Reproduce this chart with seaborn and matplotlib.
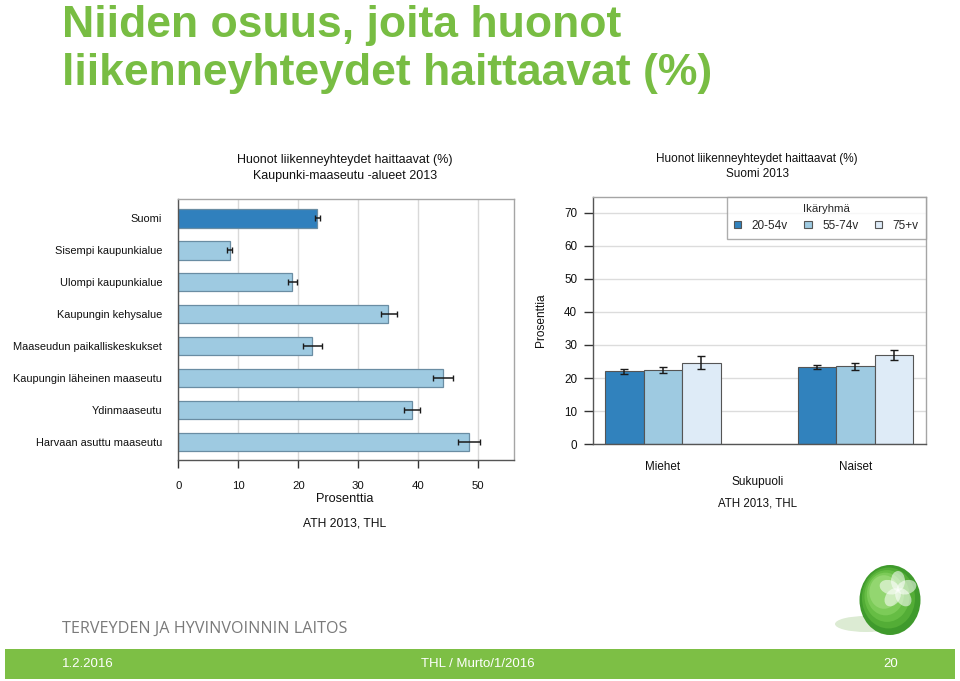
import numpy as np
import pandas as pd
import matplotlib
matplotlib.use("Agg")
import matplotlib.pyplot as plt
import seaborn as sns
from matplotlib.patches import Rectangle, Ellipse

# ---------------- data ----------------
areas = ["Suomi", "Sisempi kaupunkialue", "Ulompi kaupunkialue", "Kaupungin kehysalue",
         "Maaseudun paikalliskeskukset", "Kaupungin läheinen maaseutu", "Ydinmaaseutu",
         "Harvaan asuttu maaseutu"]
area_pct = [23.1, 8.6, 19.0, 35.0, 22.2, 44.2, 39.0, 48.5]
area_low = [22.8, 8.1, 18.3, 33.7, 20.7, 42.4, 37.6, 46.7]
area_high = [23.6, 8.9, 19.7, 36.5, 23.9, 45.8, 40.3, 50.3]
area_ticks = [0, 10, 20, 30, 40, 50]

sexes = ["Miehet", "Naiset"]
age_groups = ["20-54v", "55-74v", "75+v"]
men_pct = [22.1, 22.4, 24.7]
men_low = [21.3, 21.4, 22.8]
men_high = [22.8, 23.3, 26.6]
women_pct = [23.4, 23.6, 27.1]
women_low = [22.8, 22.5, 25.4]
women_high = [24.0, 24.7, 28.6]
sex_ticks = [0, 10, 20, 30, 40, 50, 60, 70]

# ---------------- style ----------------
sns.set_style("white")
plt.rcParams["font.family"] = ["Liberation Sans", "DejaVu Sans"]

W, H = 960, 681
fig = plt.figure(figsize=(W / 100, H / 100), dpi=100)
fig.patch.set_facecolor("white")

# page overlay in pixel coordinates
ax0 = fig.add_axes([0, 0, 1, 1])
ax0.set_xlim(0, W)
ax0.set_ylim(H, 0)
ax0.axis("off")

green = "#78bd43"
ax0.text(62, 37, "Niiden osuus, joita huonot", color=green, fontsize=32,
         fontweight="bold", va="baseline", ha="left")
ax0.text(62, 85, "liikenneyhteydet haittaavat (%)", color=green, fontsize=32,
         fontweight="bold", va="baseline", ha="left")

ax0.text(62, 633, "TERVEYDEN JA HYVINVOINNIN LAITOS", color="#7a7a7a", fontsize=11.6,
         family=["Open Sans", "DejaVu Sans"], va="baseline", ha="left")
ax0.add_patch(Rectangle((5, 649), 950, 30, color="#7dbf45", lw=0))
ax0.text(62, 664, "1.2.2016", color="white", fontsize=9.5, va="center", ha="left")
ax0.text(478, 664, "THL / Murto/1/2016", color="white", fontsize=9.5, va="center", ha="center")
ax0.text(891, 664, "20", color="white", fontsize=9.5, va="center", ha="center")

# logo sphere
ax0.add_patch(Ellipse((866, 624), 62, 16, color="#dcebd3", lw=0))
for i, c in enumerate(["#3f9a2c", "#53ad36", "#66bd44", "#7ccb58", "#93d670"]):
    s = 1 - i * 0.13
    ax0.add_patch(Ellipse((890 - i * 1.5, 600 - i * 2), 61 * s, 70 * s, color=c, lw=0))
for ang in range(0, 360, 72):
    r = np.deg2rad(ang - 90)
    ax0.add_patch(Ellipse((898 + 9 * np.cos(r), 590 + 9 * np.sin(r)), 14, 20,
                          angle=ang, color="white", alpha=0.55, lw=0))

# ---------------- left chart ----------------
ax1 = fig.add_axes([178.3 / W, 1 - 460 / H, 336 / W, 260.7 / H])
df1 = pd.DataFrame({"area": areas, "pct": area_pct})
pal1 = ["#3080bd"] + ["#9ecae1"] * (len(areas) - 1)
sns.barplot(data=df1, y="area", x="pct", hue="area", palette=pal1, legend=False,
            orient="h", width=0.575, edgecolor="#6a8da3", linewidth=0.9,
            saturation=1, errorbar=None, ax=ax1)
bars1 = list(ax1.patches)
for i, p in enumerate(bars1):
    yc = p.get_y() + p.get_height() / 2
    ax1.errorbar(area_pct[i], yc,
                 xerr=[[area_pct[i] - area_low[i]], [area_high[i] - area_pct[i]]],
                 fmt="none", ecolor="#1a1a1a", elinewidth=1.1, capsize=2, capthick=1.0,
                 zorder=5)
ax1.set_xlim(0, 56)
ax1.set_ylim(7.57, -0.6)
ax1.set_xticks(area_ticks)
ax1.xaxis.grid(True, color="#d9d9d9", lw=1)
ax1.yaxis.grid(False)
ax1.set_axisbelow(True)
ax1.set_xlabel("")
ax1.set_ylabel("")
ax1.tick_params(axis="y", length=0, labelsize=7.9, pad=11.5, labelcolor="#111")
ax1.tick_params(axis="x", length=6, width=1, color="#333", direction="out",
                labelsize=8.2, pad=9, labelcolor="#111", bottom=True)
for s in ["top", "right"]:
    ax1.spines[s].set_color("#a5a5a5")
for s in ["left", "bottom"]:
    ax1.spines[s].set_color("#555555")
for s in ax1.spines.values():
    s.set_linewidth(1)

ax0.text(345, 160, "Huonot liikenneyhteydet haittaavat (%)", fontsize=9, ha="center", va="center", color="#111")
ax0.text(345, 176, "Kaupunki-maaseutu -alueet 2013", fontsize=9, ha="center", va="center", color="#111")
ax0.text(345, 499, "Prosenttia", fontsize=9.2, ha="center", va="center", color="#111")
ax0.text(345, 523, "ATH 2013, THL", fontsize=8.7, ha="center", va="center", color="#111")

# ---------------- right chart ----------------
ax2 = fig.add_axes([592.7 / W, 1 - 444.3 / H, 333 / W, 247.6 / H])
rows = []
for s, vals in zip(sexes, [men_pct, women_pct]):
    for a, v in zip(age_groups, vals):
        rows.append((s, a, v))
df2 = pd.DataFrame(rows, columns=["Sukupuoli", "Ikäryhmä", "Prosenttia"])
sns.barplot(data=df2, x="Sukupuoli", y="Prosenttia", hue="Ikäryhmä",
            order=sexes, hue_order=age_groups,
            palette=["#3182bd", "#9ecae1", "#deebf7"], width=0.6, saturation=1,
            edgecolor="#555555", linewidth=0.8, errorbar=None, ax=ax2)
pcts = [men_pct, women_pct]
lows = [men_low, women_low]
highs = [men_high, women_high]
bar_conts = list(ax2.containers)
for j, cont in enumerate(bar_conts):
    for i, bar in enumerate(list(cont)):
        xc = bar.get_x() + bar.get_width() / 2
        v = pcts[i][j]
        ax2.errorbar(xc, v, yerr=[[v - lows[i][j]], [highs[i][j] - v]], fmt="none",
                     ecolor="#1a1a1a", elinewidth=1.1, capsize=3, capthick=1.0, zorder=5)
ax2.set_xlim(-0.365, 1.365)
ax2.set_ylim(0, 74.8)
ax2.set_yticks(sex_ticks)
ax2.yaxis.grid(True, color="#dcdcdc", lw=1)
ax2.xaxis.grid(False)
ax2.set_axisbelow(True)
ax2.set_xlabel("")
ax2.set_ylabel("")
ax2.tick_params(axis="y", length=6.3, width=1, color="#333", direction="out",
                labelsize=8.4, pad=5, labelcolor="#111", left=True)
ax2.tick_params(axis="x", length=0, labelsize=8.4, pad=12, labelcolor="#111")
for s in ["top", "right"]:
    ax2.spines[s].set_color("#a5a5a5")
for s in ["left", "bottom"]:
    ax2.spines[s].set_color("#555555")
for s in ax2.spines.values():
    s.set_linewidth(1)

handles, labels = ax2.get_legend_handles_labels()
leg = ax2.legend(handles, labels, title="Ikäryhmä", ncol=3, loc="upper right",
                 bbox_to_anchor=(1.0, 1.0), frameon=True, fancybox=False,
                 edgecolor="#999999", fontsize=8.5, title_fontsize=8.2,
                 handlelength=0.6, handleheight=0.6, handletextpad=0.9,
                 columnspacing=1.4, borderaxespad=0, borderpad=0.6)
leg.get_frame().set_linewidth(1)

ax0.text(757, 159, "Huonot liikenneyhteydet haittaavat (%)", fontsize=8.5, ha="center", va="center", color="#111")
ax0.text(757, 174, "Suomi 2013", fontsize=8.5, ha="center", va="center", color="#111")
ax0.text(541, 320, "Prosenttia", fontsize=8.6, rotation=90, ha="center", va="center", color="#111")
ax0.text(758, 482, "Sukupuoli", fontsize=8.6, ha="center", va="center", color="#111")
ax0.text(758, 504, "ATH 2013, THL", fontsize=8.3, ha="center", va="center", color="#111")

fig.savefig("out.png", dpi=100)
